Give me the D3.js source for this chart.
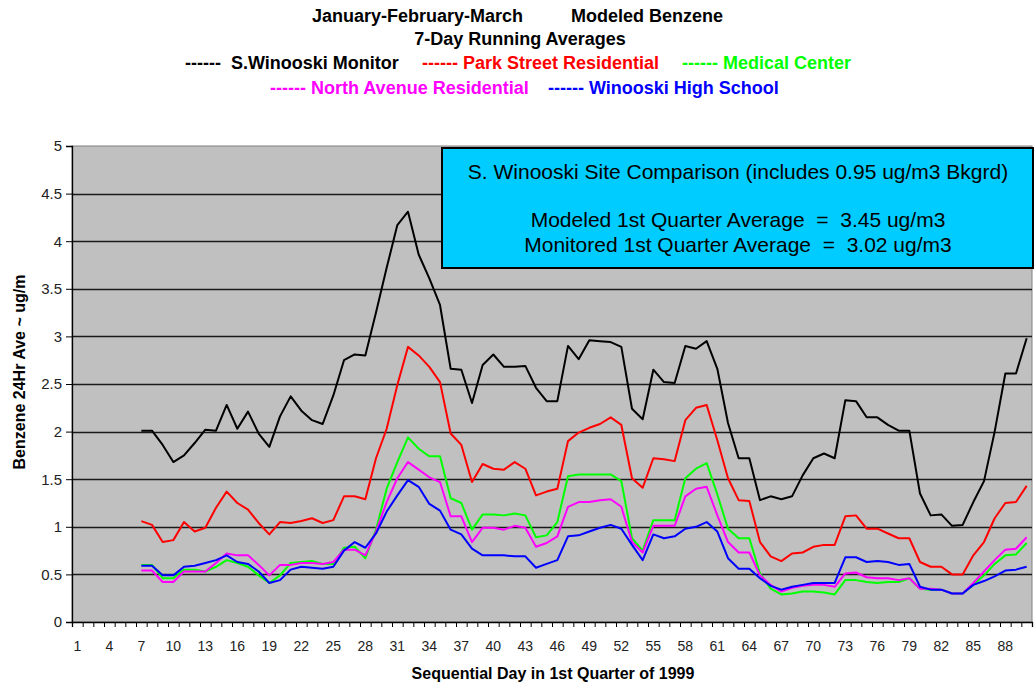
<!DOCTYPE html>
<html>
<head>
<meta charset="utf-8">
<script src="https://cdn.jsdelivr.net/npm/d3@7"></script>
<style>
  body { margin: 0; background: #fff; }
  text { font-family: "Liberation Sans", Arial, sans-serif; }
</style>
</head>
<body>
<div id="chart"></div>
<script>
// Days of the quarter (categories) and the days that carry a 7-day average
const days = d3.range(1, 91);
const firstDay = 7;
const xTickLabels = [1, 4, 7, 10, 13, 16, 19, 22, 25, 28, 31, 34, 37, 40, 43, 46, 49, 52, 55, 58, 61, 64, 67, 70, 73, 76, 79, 82, 85, 88];
const yTickValues = [0, 0.5, 1, 1.5, 2, 2.5, 3, 3.5, 4, 4.5, 5];

// 7-day running averages, day 7 .. day 90
const sWinooskiMonitor = [
  2.01, 2.01, 1.86, 1.68, 1.75, 1.88, 2.02, 2.01, 2.28, 2.03,
  2.21, 1.98, 1.84, 2.16, 2.37, 2.22, 2.12, 2.08, 2.38, 2.75,
  2.81, 2.80, 3.25, 3.72, 4.17, 4.31, 3.86, 3.61, 3.33, 2.66,
  2.65, 2.30, 2.70, 2.81, 2.68, 2.68, 2.69, 2.46, 2.32, 2.32,
  2.90, 2.76, 2.96, 2.95, 2.94, 2.89, 2.24, 2.13, 2.65, 2.52,
  2.51, 2.90, 2.87, 2.95, 2.66, 2.09, 1.72, 1.72, 1.28, 1.32,
  1.29, 1.32, 1.54, 1.72, 1.77, 1.72, 2.33, 2.32, 2.15, 2.15,
  2.07, 2.01, 2.01, 1.35, 1.12, 1.13, 1.01, 1.02, 1.26, 1.48,
  2.00, 2.61, 2.61, 2.98
];
const parkStreet = [
  1.06, 1.02, 0.84, 0.86, 1.05, 0.95, 0.99, 1.20, 1.37, 1.25,
  1.18, 1.04, 0.92, 1.05, 1.04, 1.06, 1.09, 1.04, 1.07, 1.32,
  1.32, 1.29, 1.72, 2.03, 2.49, 2.89, 2.80, 2.68, 2.52, 1.98,
  1.86, 1.47, 1.66, 1.61, 1.60, 1.68, 1.61, 1.33, 1.37, 1.40,
  1.90, 1.99, 2.04, 2.08, 2.15, 2.07, 1.51, 1.41, 1.72, 1.71,
  1.69, 2.12, 2.25, 2.28, 1.91, 1.51, 1.28, 1.27, 0.84, 0.69,
  0.64, 0.72, 0.73, 0.79, 0.81, 0.81, 1.11, 1.12, 0.98, 0.98,
  0.93, 0.88, 0.88, 0.63, 0.58, 0.58, 0.50, 0.50, 0.70, 0.84,
  1.09, 1.25, 1.26, 1.43
];
const medicalCenter = [
  0.60, 0.60, 0.46, 0.46, 0.55, 0.55, 0.53, 0.58, 0.65, 0.62,
  0.58, 0.49, 0.41, 0.49, 0.62, 0.63, 0.64, 0.61, 0.61, 0.78,
  0.79, 0.67, 0.97, 1.40, 1.68, 1.94, 1.82, 1.74, 1.74, 1.30,
  1.25, 0.97, 1.13, 1.13, 1.12, 1.14, 1.12, 0.89, 0.91, 1.05,
  1.53, 1.55, 1.55, 1.55, 1.55, 1.48, 0.88, 0.75, 1.07, 1.07,
  1.07, 1.51, 1.61, 1.67, 1.34, 0.98, 0.88, 0.88, 0.51, 0.35,
  0.29, 0.30, 0.32, 0.32, 0.31, 0.29, 0.44, 0.44, 0.42, 0.41,
  0.42, 0.42, 0.46, 0.35, 0.34, 0.34, 0.30, 0.30, 0.39, 0.49,
  0.61, 0.70, 0.71, 0.83
];
const northAvenue = [
  0.54, 0.54, 0.42, 0.42, 0.53, 0.53, 0.53, 0.62, 0.72, 0.70,
  0.70, 0.60, 0.49, 0.60, 0.60, 0.62, 0.62, 0.61, 0.63, 0.76,
  0.76, 0.70, 0.95, 1.26, 1.51, 1.68, 1.60, 1.52, 1.47, 1.11,
  1.11, 0.84, 0.99, 0.99, 0.97, 1.01, 0.99, 0.79, 0.83, 0.90,
  1.21, 1.26, 1.26, 1.28, 1.29, 1.21, 0.84, 0.73, 1.01, 1.01,
  1.01, 1.32, 1.40, 1.42, 1.12, 0.84, 0.73, 0.73, 0.49, 0.39,
  0.32, 0.36, 0.38, 0.39, 0.39, 0.37, 0.51, 0.52, 0.47, 0.46,
  0.46, 0.44, 0.46, 0.35, 0.35, 0.34, 0.30, 0.30, 0.41, 0.53,
  0.65, 0.76, 0.77, 0.89
];
const winooskiHigh = [
  0.59, 0.59, 0.49, 0.49, 0.58, 0.59, 0.62, 0.65, 0.70, 0.63,
  0.61, 0.53, 0.41, 0.44, 0.55, 0.58, 0.57, 0.56, 0.58, 0.75,
  0.84, 0.78, 0.93, 1.16, 1.33, 1.49, 1.42, 1.24, 1.17, 0.97,
  0.92, 0.77, 0.70, 0.70, 0.70, 0.69, 0.69, 0.57, 0.61, 0.65,
  0.90, 0.91, 0.95, 0.99, 1.02, 0.98, 0.81, 0.65, 0.92, 0.88,
  0.90, 0.98, 1.00, 1.05, 0.95, 0.67, 0.56, 0.56, 0.46, 0.38,
  0.34, 0.37, 0.39, 0.41, 0.41, 0.41, 0.68, 0.68, 0.63, 0.64,
  0.63, 0.60, 0.61, 0.37, 0.34, 0.34, 0.30, 0.30, 0.39, 0.43,
  0.48, 0.54, 0.55, 0.58
];

const seriesNames = ["S.Winooski Monitor", "Park Street Residential", "Medical Center", "North Avenue Residential", "Winooski High School"];
const seriesValues = [sWinooskiMonitor, parkStreet, medicalCenter, northAvenue, winooskiHigh];
const seriesColors = ["#000000", "#ff0000", "#00ff00", "#ff00ff", "#0000ff"];

const noteLines = [
  "S. Winooski Site Comparison (includes 0.95 ug/m3 Bkgrd)",
  "Modeled 1st Quarter Average  =  3.45 ug/m3",
  "Monitored 1st Quarter Average  =  3.02 ug/m3"
];

const width = 1034;
const height = 685;
const plot = { left: 72, right: 1032, top: 146, bottom: 622 };

const svg = d3.select("#chart")
  .append("svg")
  .attr("width", width)
  .attr("height", height)
  .style("display", "block");

// Scales
const x = d3.scaleBand()
  .domain(days)
  .range([plot.left, plot.right]);

const xEdge = d3.scaleLinear()
  .domain([0, days.length])
  .range([plot.left, plot.right]);

const y = d3.scaleLinear()
  .domain([0, 5])
  .range([plot.bottom, plot.top]);

// Plot background
svg.append("rect")
  .attr("x", plot.left)
  .attr("y", plot.top)
  .attr("width", plot.right - plot.left)
  .attr("height", plot.bottom - plot.top)
  .attr("fill", "#c0c0c0")
  .attr("stroke", "#808080")
  .attr("stroke-width", 1);

// Horizontal grid lines
svg.append("g")
  .selectAll("line")
  .data(yTickValues.filter(v => v > 0 && v < 5))
  .enter().append("line")
  .attr("x1", plot.left)
  .attr("x2", plot.right)
  .attr("y1", d => Math.round(y(d)) + 0.5)
  .attr("y2", d => Math.round(y(d)) + 0.5)
  .attr("stroke", "#1a1a1a")
  .attr("stroke-width", 1.4);

// Y axis
const yAxis = svg.append("g")
  .attr("transform", `translate(${plot.left},0)`)
  .call(d3.axisLeft(y).tickValues(yTickValues).tickSize(6).tickPadding(4).tickFormat(d => String(d)));
yAxis.select(".domain").attr("stroke", "#000").attr("stroke-width", 1.3);
yAxis.selectAll(".tick line").attr("stroke", "#000");
yAxis.selectAll("text")
  .style("font-family", "'Liberation Sans', Arial, sans-serif")
  .style("font-size", "15px")
  .attr("fill", "#222");

// X axis: tick marks between categories
const xTicks = svg.append("g")
  .attr("transform", `translate(0,${plot.bottom})`)
  .call(d3.axisBottom(xEdge).tickValues(d3.range(0, days.length + 1)).tickSize(5).tickFormat(""));
xTicks.select(".domain").attr("stroke", "#000").attr("stroke-width", 1.3);
xTicks.selectAll(".tick line").attr("stroke", "#000");

// X axis: category labels every third day
const xLabels = svg.append("g")
  .attr("transform", `translate(0,${plot.bottom})`)
  .call(d3.axisBottom(x).tickValues(xTickLabels).tickSize(0).tickPadding(19));
xLabels.select(".domain").remove();
xLabels.selectAll("text")
  .style("font-family", "'Liberation Sans', Arial, sans-serif")
  .style("font-size", "14px")
  .attr("fill", "#222");

// Series lines
const line = d3.line()
  .x((d, i) => x(firstDay + i) + x.bandwidth() / 2)
  .y(d => y(d));

svg.append("g")
  .selectAll("path")
  .data(seriesValues)
  .enter().append("path")
  .attr("d", d => line(d))
  .attr("fill", "none")
  .attr("stroke", (d, i) => seriesColors[i])
  .attr("stroke-width", 2)
  .attr("stroke-linejoin", "round");

// Note box
svg.append("rect")
  .attr("x", 442)
  .attr("y", 148)
  .attr("width", 591)
  .attr("height", 120)
  .attr("fill", "#00ccff")
  .attr("stroke", "#000")
  .attr("stroke-width", 2);

svg.append("g")
  .selectAll("text")
  .data(noteLines)
  .enter().append("text")
  .attr("x", 738)
  .attr("y", (d, i) => [179, 227, 252][i])
  .attr("text-anchor", "middle")
  .attr("xml:space", "preserve")
  .style("font-size", "21px")
  .style("white-space", "pre")
  .attr("fill", "#000")
  .text(d => d);

// Titles
const title = svg.append("g")
  .style("font-weight", "bold")
  .style("font-size", "18px");

title.append("text").attr("x", 312).attr("y", 22).text("January-February-March");
title.append("text").attr("x", 571).attr("y", 22).text("Modeled Benzene");
title.append("text").attr("x", 520).attr("y", 45).attr("text-anchor", "middle").text("7-Day Running Averages");

// Legend made of dash strings, as in the original
const legendPos = [[185, 69], [422, 69], [682, 69], [270, 94], [548, 94]];
title.selectAll(".legend")
  .data(seriesNames)
  .enter().append("text")
  .attr("class", "legend")
  .attr("x", (d, i) => legendPos[i][0])
  .attr("y", (d, i) => legendPos[i][1])
  .attr("fill", (d, i) => seriesColors[i])
  .attr("xml:space", "preserve")
  .style("white-space", "pre")
  .text((d, i) => (i === 0 ? "------  " : "------ ") + d);

// Axis titles
svg.append("text")
  .attr("transform", `translate(25,372) rotate(-90)`)
  .attr("text-anchor", "middle")
  .style("font-weight", "bold")
  .style("font-size", "16px")
  .text("Benzene 24Hr Ave ~ ug/m");

svg.append("text")
  .attr("x", 553)
  .attr("y", 679)
  .attr("text-anchor", "middle")
  .style("font-weight", "bold")
  .style("font-size", "16px")
  .text("Sequential Day in 1st Quarter of 1999");
</script>
</body>
</html>
